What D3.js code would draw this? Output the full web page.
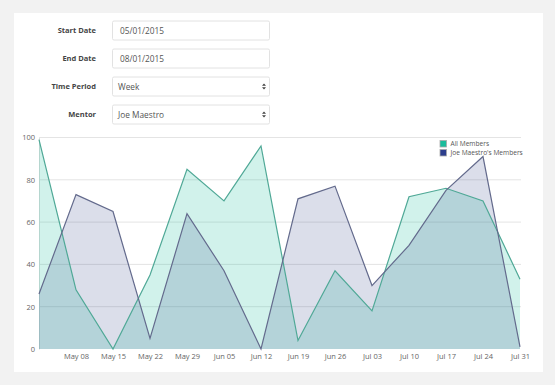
<!DOCTYPE html>
<html>
  <head>
    <script src="https://d3js.org/d3.v7.min.js" charset="utf-8"></script>
    <meta charset="UTF-8">
    <title>members chart</title>
    <style>
      body { margin: 0; background: #f2f2f2; }
      svg { display: block; font-family: "Open Sans", sans-serif; }
    </style>
  </head>
  <body>
    <svg class="chart"></svg>
    <script type="text/javascript">

     var width = 555,
         height = 385;

     // data
     var weeks = ["2015-05-01", "2015-05-08", "2015-05-15", "2015-05-22", "2015-05-29",
                  "2015-06-05", "2015-06-12", "2015-06-19", "2015-06-26", "2015-07-03",
                  "2015-07-10", "2015-07-17", "2015-07-24", "2015-07-31"];
     var allMembers = [99, 28, 0, 35, 85, 70, 96, 4, 37, 18, 72, 76, 70, 33];
     var mentorMembers = [26, 73, 65, 5, 64, 37, 0, 71, 77, 30, 49, 75, 91, 1];
     var seriesNames = ["All Members", "Joe Maestro's Members"];
     var yTicks = [0, 20, 40, 60, 80, 100];

     var formLabels = ["Start Date", "End Date", "Time Period", "Mentor"];
     var formValues = ["05/01/2015", "08/01/2015", "Week", "Joe Maestro"];
     var formSelect = [false, false, true, true];

     var parse = d3.timeParse("%Y-%m-%d");
     var dates = weeks.map(parse);

     var chart = d3.select(".chart")
                   .attr("width", width)
                   .attr("height", height);

     // white panel
     chart.append("rect")
          .attr("x", 14).attr("y", 13)
          .attr("width", 529).attr("height", 359)
          .attr("fill", "#fff");

     // form
     var form = chart.append("g").attr("class", "form");
     formLabels.forEach(function(lab, i) {
         var cy = 30.5 + i * 28;
         form.append("text")
             .attr("x", 96).attr("y", cy + 2.8)
             .attr("text-anchor", "end")
             .attr("font-size", 7.5)
             .attr("font-weight", "bold")
             .attr("fill", "#444")
             .text(lab);
         form.append("rect")
             .attr("x", 112.5).attr("y", cy - 9.5)
             .attr("width", 157).attr("height", 19)
             .attr("rx", 1.5)
             .attr("fill", "#fff")
             .attr("stroke", "#e2e2e2");
         form.append("text")
             .attr("x", formSelect[i] ? 118 : 120).attr("y", cy + 3.2)
             .attr("font-size", 8.3)
             .attr("fill", "#555")
             .text(formValues[i]);
         if (formSelect[i]) {
             form.append("path")
                 .attr("d", "M262,-0.8 L264,-3 L266,-0.8 Z M262,0.8 L264,3 L266,0.8 Z")
                 .attr("transform", "translate(0," + cy + ")")
                 .attr("fill", "#444");
         }
     });

     // scales
     var x = d3.scaleTime()
               .domain(d3.extent(dates))
               .range([39, 520]);
     var y = d3.scaleLinear()
               .domain([0, 100])
               .range([349, 137.5]);

     // gridlines
     chart.append("g")
          .selectAll("line")
          .data(yTicks.slice(1))
          .enter().append("line")
          .attr("x1", 39).attr("x2", 521)
          .attr("y1", function(d) { return y(d); })
          .attr("y2", function(d) { return y(d); })
          .attr("stroke", "#e4e4e4");

     var yAxis = chart.append("g")
          .attr("transform", "translate(39,0)")
          .call(d3.axisLeft(y).tickValues(yTicks).tickSize(0).tickPadding(4));
     yAxis.select(".domain").attr("stroke", "#ddd");
     yAxis.selectAll("text").attr("font-size", 7.5).attr("fill", "#666")
          .attr("font-family", "Open Sans, sans-serif");

     var xAxis = chart.append("g")
          .attr("transform", "translate(0,349)")
          .call(d3.axisBottom(x).tickValues(dates.slice(1))
                  .tickFormat(d3.timeFormat("%b %d")).tickSize(0).tickPadding(4.5));
     xAxis.select(".domain").remove();
     xAxis.selectAll("text").attr("font-size", 7.5).attr("fill", "#666")
          .attr("font-family", "Open Sans, sans-serif");

     var series = [
         {name: seriesNames[0], values: allMembers, fill: "#1abc9c", fillOp: 0.2, line: "#4fa896"},
         {name: seriesNames[1], values: mentorMembers, fill: "#2c3a80", fillOp: 0.17, line: "#636a8c"}
     ];

     var area = d3.area()
                  .x(function(d, i) { return x(dates[i]); })
                  .y0(y(0))
                  .y1(function(d) { return y(d); });
     var line = d3.line()
                  .x(function(d, i) { return x(dates[i]); })
                  .y(function(d) { return y(d); });

     chart.append("g").selectAll("path")
          .data(series)
          .enter().append("path")
          .attr("d", function(d) { return area(d.values); })
          .attr("fill", function(d) { return d.fill; })
          .attr("fill-opacity", function(d) { return d.fillOp; });

     chart.append("g").selectAll("path")
          .data(series)
          .enter().append("path")
          .attr("d", function(d) { return line(d.values); })
          .attr("fill", "none")
          .attr("stroke", function(d) { return d.line; })
          .attr("stroke-width", 1.2);

     // legend
     var legend = chart.append("g").attr("transform", "translate(440,140.5)");
     var leg = legend.selectAll("g")
          .data(series)
          .enter().append("g")
          .attr("transform", function(d, i) { return "translate(0," + i * 9 + ")"; });
     leg.append("rect")
        .attr("width", 6.5).attr("height", 6.5)
        .attr("fill", function(d, i) { return i ? "#2c3e8c" : "#1abc9c"; })
        .attr("stroke", "#aaa").attr("stroke-width", 0.8);
     leg.append("text")
        .attr("x", 10.5).attr("y", 5.8)
        .attr("font-size", 6.6)
        .attr("fill", "#555")
        .text(function(d) { return d.name; });

    </script>
  </body>
</html>
